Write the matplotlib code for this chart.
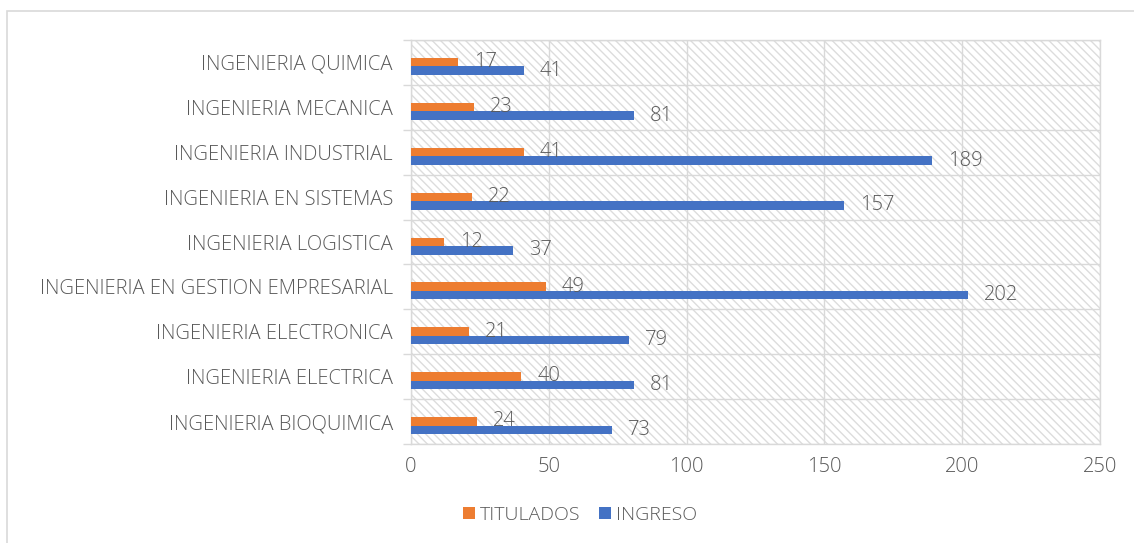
import matplotlib
matplotlib.use("Agg")
import matplotlib.pyplot as plt
from matplotlib.patches import Rectangle, Patch
import numpy as np

categories = [
    "INGENIERIA BIOQUIMICA",
    "INGENIERIA ELECTRICA",
    "INGENIERIA ELECTRONICA",
    "INGENIERIA EN GESTION EMPRESARIAL",
    "INGENIERIA LOGISTICA",
    "INGENIERIA EN SISTEMAS",
    "INGENIERIA INDUSTRIAL",
    "INGENIERIA MECANICA",
    "INGENIERIA QUIMICA",
]
titulados = [24, 40, 21, 49, 12, 22, 41, 23, 17]
ingreso = [73, 81, 79, 202, 37, 157, 189, 81, 41]
xticks = [0, 50, 100, 150, 200, 250]

ORANGE = "#ED7D31"
BLUE = "#4472C4"
TXT = "#595959"
GRID = "#D9D9D9"

plt.rcParams["font.family"] = ["Open Sans", "DejaVu Sans"]
plt.rcParams["font.weight"] = "light"
plt.rcParams["hatch.color"] = "#DCDCDC"
plt.rcParams["hatch.linewidth"] = 1.0

FS = 14.5

fig = plt.figure(figsize=(11.34, 5.43), dpi=100)
ax = fig.add_axes([411/1134, 1-444/543, (1100-411)/1134, (444-40)/543])

# outer frame
fig.add_artist(Rectangle((7/1134, -0.1), 1.2, 1-11/543+0.1, transform=fig.transFigure,
                         fill=False, edgecolor=GRID, linewidth=1.2))

# hatched plot area
ax.add_patch(Rectangle((0, 0), 1, 1, transform=ax.transAxes, facecolor="white",
                       hatch="\\\\\\\\", edgecolor="#DCDCDC", linewidth=0, zorder=0))

y = np.arange(len(categories))
h = 0.19
shift = -0.09
ax.barh(y + shift + h/2, titulados, height=h, color=ORANGE, zorder=3, label="TITULADOS")
ax.barh(y + shift - h/2, ingreso, height=h, color=BLUE, zorder=3, label="INGRESO")

for yi, t, g in zip(y, titulados, ingreso):
    ax.annotate(str(t), (t, yi + shift + h/2), xytext=(11.5, 0), textcoords="offset points",
                va="center", ha="left", color=TXT, fontsize=FS, zorder=4)
    ax.annotate(str(g), (g, yi + shift - h/2), xytext=(11.5, 0), textcoords="offset points",
                va="center", ha="left", color=TXT, fontsize=FS, zorder=4)

ax.set_xlim(0, 250)
ax.set_ylim(-0.5, len(categories) - 0.5)
ax.set_xticks(xticks)
ax.set_xticklabels([str(v) for v in xticks])
ax.set_yticks(y)
ax.set_yticklabels(categories)
ax.set_yticks(np.arange(len(categories) + 1) - 0.5, minor=True)
ax.tick_params(axis="x", length=0, pad=9, labelsize=FS, labelcolor=TXT)
ax.tick_params(axis="y", which="major", length=0, pad=13, labelsize=FS, labelcolor=TXT)
ax.tick_params(axis="y", which="minor", length=6, width=1.0, color=GRID)
ax.grid(axis="x", color=GRID, linewidth=1.0, zorder=1)
ax.grid(axis="y", which="minor", color=GRID, linewidth=1.0, zorder=1)
ax.set_axisbelow(True)
for s in ax.spines.values():
    s.set_color(GRID)
    s.set_linewidth(1.0)

handles = [Patch(facecolor=ORANGE), Patch(facecolor=BLUE)]
fig.legend(handles, ["TITULADOS", "INGRESO"], loc="center",
           bbox_to_anchor=(580/1134, 1-515/543), ncol=2, frameon=False,
           handlelength=0.6, handleheight=0.6, handletextpad=0.25, columnspacing=1.0,
           prop={"size": 14, "weight": "light"}, labelcolor=TXT)

fig.savefig("out.png", dpi=100)
